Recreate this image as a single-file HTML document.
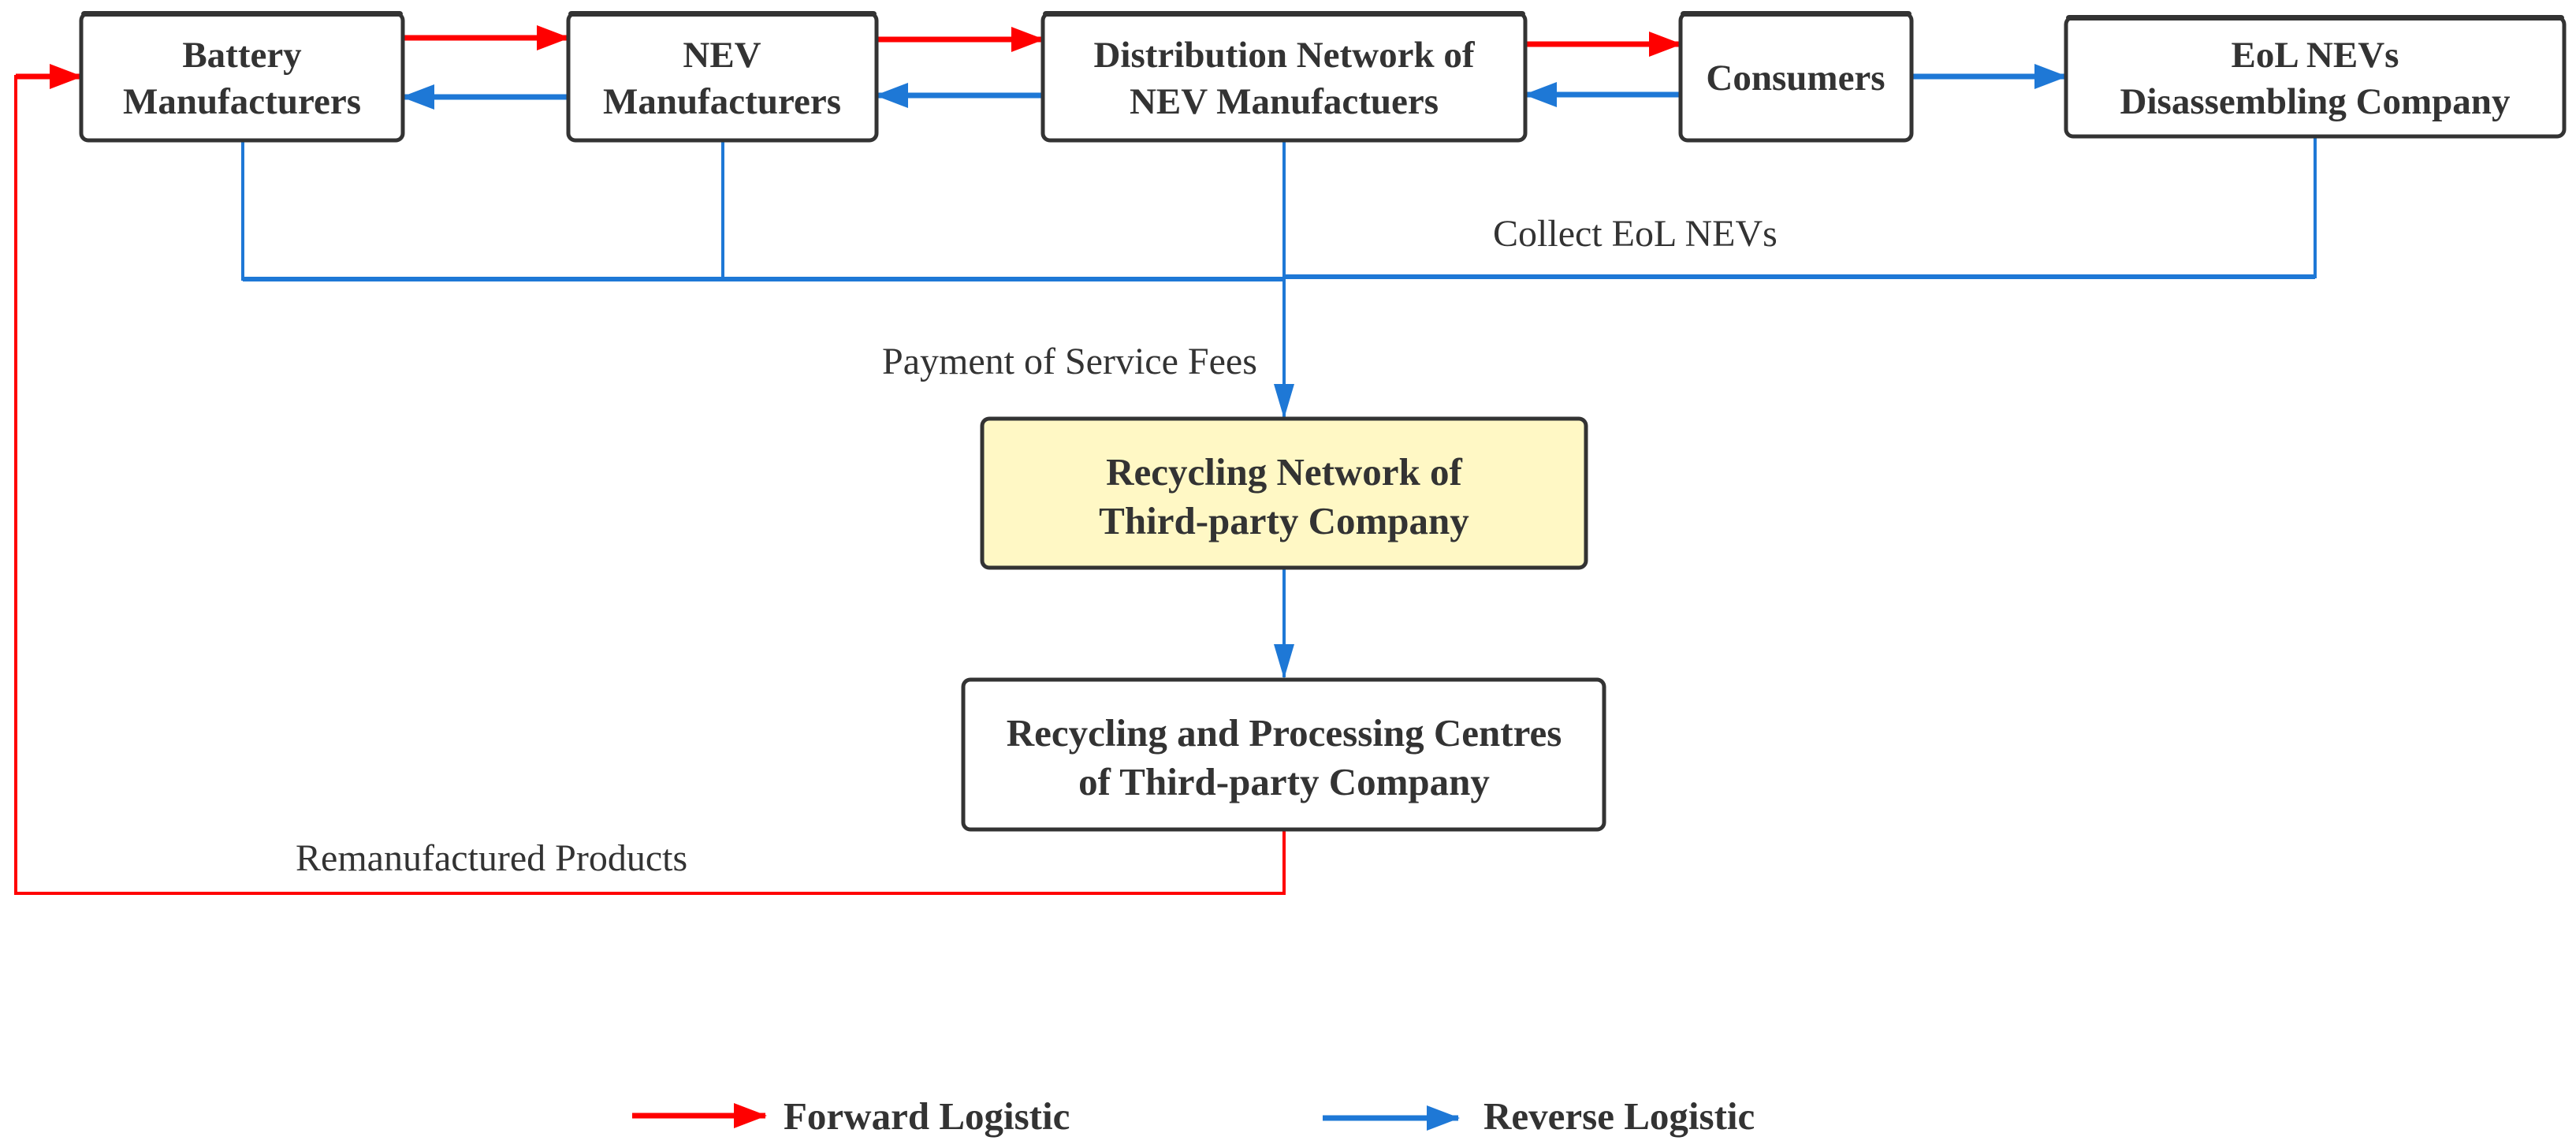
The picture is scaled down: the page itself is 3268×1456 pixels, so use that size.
<!DOCTYPE html>
<html><head><meta charset="utf-8"><style>
html,body{margin:0;padding:0;background:#fff;}
svg{display:block;}
text{font-family:"Liberation Serif",serif;fill:#333;}
.b{font-weight:bold;font-size:49px;}
.t{font-size:47px;}
.n{font-size:48px;}
</style></head><body>
<svg width="3268" height="1456" viewBox="0 0 3268 1456" xmlns="http://www.w3.org/2000/svg">
<defs>
<marker id="ar" markerUnits="userSpaceOnUse" markerWidth="42" markerHeight="32" refX="40" refY="16" orient="auto"><path d="M0,0 L42,16 L0,32 Z" fill="#ff0000"/></marker>
<marker id="ab" markerUnits="userSpaceOnUse" markerWidth="42" markerHeight="32" refX="40" refY="16" orient="auto"><path d="M0,0 L42,16 L0,32 Z" fill="#1e78d6"/></marker>
<marker id="abv" markerUnits="userSpaceOnUse" markerWidth="44" markerHeight="26" refX="42" refY="13" orient="auto"><path d="M0,0 L44,13 L0,26 Z" fill="#1e78d6"/></marker>
</defs>
<g fill="none">
<line x1="511" y1="48" x2="721" y2="48" stroke="#ff0000" stroke-width="7" marker-end="url(#ar)"/>
<line x1="721" y1="123" x2="511" y2="123" stroke="#1e78d6" stroke-width="7" marker-end="url(#ab)"/>
<line x1="1112" y1="50" x2="1323" y2="50" stroke="#ff0000" stroke-width="7" marker-end="url(#ar)"/>
<line x1="1323" y1="121" x2="1112" y2="121" stroke="#1e78d6" stroke-width="7" marker-end="url(#ab)"/>
<line x1="1935" y1="56" x2="2132" y2="56" stroke="#ff0000" stroke-width="7" marker-end="url(#ar)"/>
<line x1="2132" y1="120" x2="1935" y2="120" stroke="#1e78d6" stroke-width="7" marker-end="url(#ab)"/>
<line x1="2425" y1="97" x2="2621" y2="97" stroke="#1e78d6" stroke-width="7" marker-end="url(#ab)"/>
<polyline points="308,178 308,354 1629,354" stroke="#1e78d6" stroke-width="4"/>
<line x1="308" y1="354" x2="1629" y2="354" stroke="#1e78d6" stroke-width="6"/>
<line x1="917" y1="178" x2="917" y2="354" stroke="#1e78d6" stroke-width="4"/>
<polyline points="2937,173 2937,351 1629,351" stroke="#1e78d6" stroke-width="4"/>
<line x1="2937" y1="351" x2="1629" y2="351" stroke="#1e78d6" stroke-width="6"/>
<line x1="1629" y1="178" x2="1629" y2="529" stroke="#1e78d6" stroke-width="4" marker-end="url(#abv)"/>
<line x1="1629" y1="720" x2="1629" y2="859" stroke="#1e78d6" stroke-width="4" marker-end="url(#abv)"/>
<polyline points="1629,1052 1629,1133 20,1133 20,97 60,97" stroke="#ff0000" stroke-width="4"/>
<line x1="20" y1="97" x2="103" y2="97" stroke="#ff0000" stroke-width="7" marker-end="url(#ar)"/>
<line x1="802" y1="1415" x2="971" y2="1415" stroke="#ff0000" stroke-width="7" marker-end="url(#ar)"/>
<line x1="1678" y1="1418" x2="1850" y2="1418" stroke="#1e78d6" stroke-width="7" marker-end="url(#ab)"/>
</g>
<g stroke="#333" stroke-width="5" fill="#fff">
<rect x="103" y="17" width="408" height="161" rx="9"/>
<rect x="721" y="17" width="391" height="161" rx="9"/>
<rect x="1323" y="17" width="612" height="161" rx="9"/>
<rect x="2132" y="17" width="293" height="161" rx="9"/>
<rect x="2621" y="22" width="632" height="151" rx="9"/>
<rect x="1246" y="531" width="766" height="189" rx="9" fill="#fff8c5"/>
<rect x="1222" y="862" width="813" height="190" rx="9"/>
</g>
<g fill="#333">
<rect x="103" y="14" width="408" height="7" rx="4"/>
<rect x="721" y="14" width="391" height="7" rx="4"/>
<rect x="1323" y="14" width="612" height="7" rx="4"/>
<rect x="2132" y="14" width="293" height="7" rx="4"/>
<rect x="2621" y="19" width="632" height="7" rx="4"/>
</g>
<g class="b t" text-anchor="middle">
<text x="307" y="85">Battery</text><text x="307" y="144">Manufacturers</text>
<text x="916" y="85">NEV</text><text x="916" y="144">Manufacturers</text>
<text x="1629" y="85">Distribution Network of</text><text x="1629" y="144">NEV Manufactuers</text>
<text x="2278" y="114">Consumers</text>
<text x="2937" y="85">EoL NEVs</text><text x="2937" y="144">Disassembling Company</text>
</g>
<g class="b" text-anchor="middle">
<text x="1629" y="615">Recycling Network of</text><text x="1629" y="677">Third-party Company</text>
<text x="1629" y="946">Recycling and Processing Centres</text><text x="1629" y="1008">of Third-party Company</text>
<text x="994" y="1432" text-anchor="start">Forward Logistic</text>
<text x="1882" y="1432" text-anchor="start">Reverse Logistic</text>
</g>
<g class="n">
<text x="1894" y="312">Collect EoL NEVs</text>
<text x="1119" y="474">Payment of Service Fees</text>
<text x="375" y="1104">Remanufactured Products</text>
</g>
</svg>
</body></html>
